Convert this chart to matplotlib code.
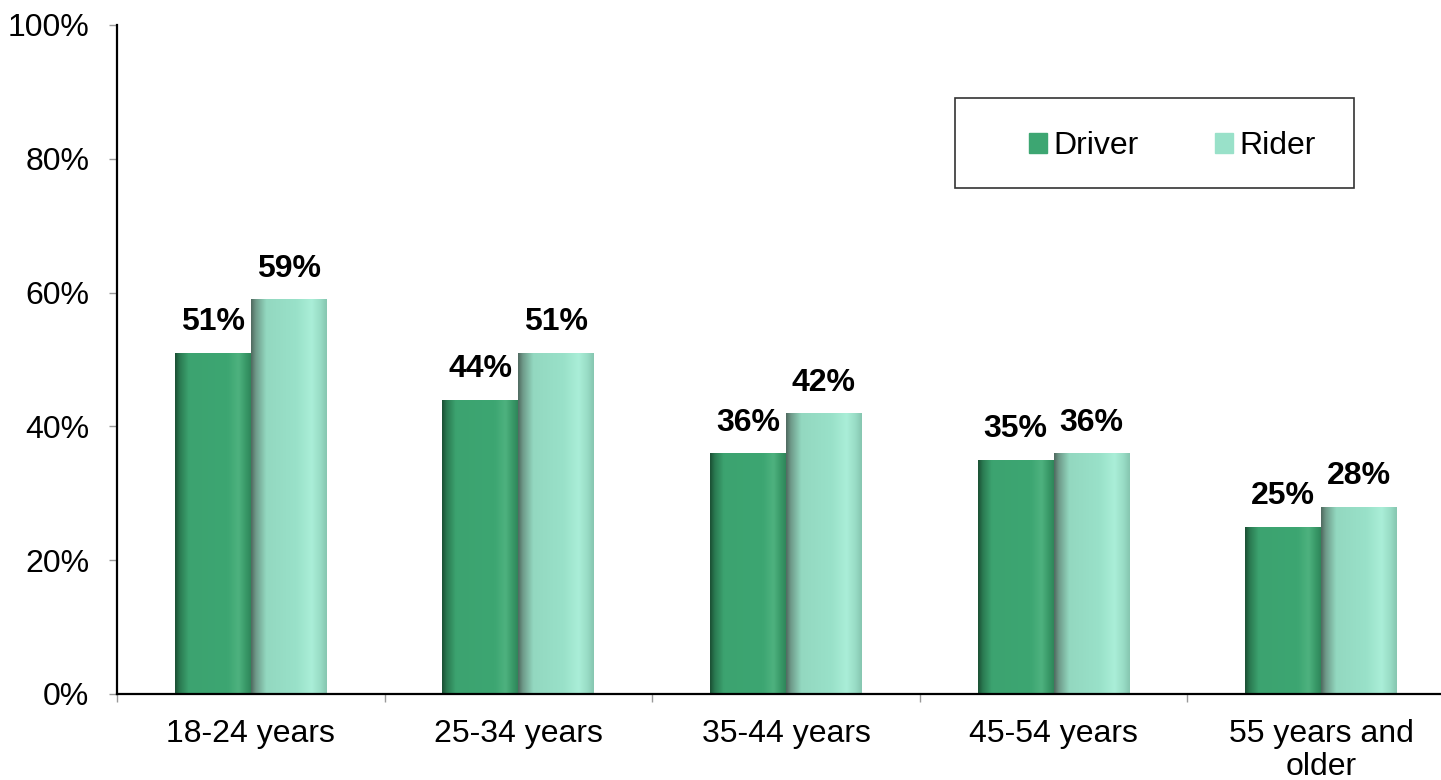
import numpy as np
import matplotlib.pyplot as plt
from matplotlib.patches import Rectangle, Patch
from matplotlib.colors import LinearSegmentedColormap

plt.rcParams['font.family'] = ['Liberation Sans', 'DejaVu Sans']

categories = ['18-24 years', '25-34 years', '35-44 years', '45-54 years', '55 years and\nolder']
driver = [51, 44, 36, 35, 25]
rider = [59, 51, 42, 36, 28]

driver_color = '#3DA672'
rider_color = '#99E1C9'

# horizontal shading across each bar (cylinder look)
driver_cmap = LinearSegmentedColormap.from_list('drv', [
    (0.0, '#1B5034'), (0.06, '#2A7A51'), (0.18, '#3CA370'), (0.7, '#3DA672'),
    (0.84, '#4EB27F'), (0.93, '#3A9A69'), (1.0, '#2F865A')])
rider_cmap = LinearSegmentedColormap.from_list('rdr', [
    (0.0, '#506A60'), (0.06, '#6E9A89'), (0.2, '#93D8C0'), (0.6, '#99E1C9'),
    (0.8, '#AAEED8'), (0.92, '#98DCC5'), (1.0, '#86C6B0')])

fs = 23

fig = plt.figure(figsize=(14.41, 7.80), dpi=100)
ax = fig.add_axes([0.0812, 0.1103, 0.9285, 0.8577])

x = np.arange(len(categories))
w = 0.284
b1 = ax.bar(x - w / 2, driver, w, color=driver_color)
b2 = ax.bar(x + w / 2, rider, w, color=rider_color)

grad = np.linspace(0, 1, 200).reshape(1, -1)
for bars, cmap in [(b1, driver_cmap), (b2, rider_cmap)]:
    for p in bars:
        x0, y0 = p.get_x(), p.get_y()
        im = ax.imshow(grad, cmap=cmap, aspect='auto', interpolation='bicubic',
                       extent=[x0, x0 + p.get_width(), y0, y0 + p.get_height()], zorder=2)
        im.set_clip_path(p)

for bars, vals in [(b1, driver), (b2, rider)]:
    for p, v in zip(bars, vals):
        ax.text(p.get_x() + p.get_width() / 2, v + 2.3, f'{v}%', ha='center', va='bottom',
                fontsize=fs, fontweight='bold', color='black')

ax.set_xlim(-0.5, len(categories) - 0.5)
ax.set_ylim(0, 100)
ax.set_yticks(range(0, 101, 20))
ax.set_yticklabels([f'{v}%' for v in range(0, 101, 20)])
ax.set_xticks(x)
ax.set_xticklabels(categories, linespacing=1.12)
ax.set_xticks(np.arange(-0.5, len(categories), 1), minor=True)
ax.tick_params(axis='x', which='major', length=0, pad=18, labelsize=fs)
ax.tick_params(axis='x', which='minor', length=6, width=1, color='#999999')
ax.tick_params(axis='y', length=6, width=1, color='#999999', pad=14, labelsize=fs)

for s in ['top', 'right']:
    ax.spines[s].set_visible(False)
for s in ['left', 'bottom']:
    ax.spines[s].set_linewidth(1.6)
    ax.spines[s].set_color('black')

handles = [Patch(color=driver_color, label='Driver'), Patch(color=rider_color, label='Rider')]
fig.legend(handles=handles, loc='center', bbox_to_anchor=(0.8137, 0.8125), ncol=2,
           frameon=False, fontsize=fs, handlelength=0.55, handleheight=0.55,
           handletextpad=0.2, columnspacing=2.4)
fig.patches.append(Rectangle((955 / 1441, 1 - 188 / 780), (1354 - 955) / 1441, 90 / 780,
                             transform=fig.transFigure, fill=False, edgecolor='#333333',
                             linewidth=1.2))

fig.savefig('out.png', dpi=100)
